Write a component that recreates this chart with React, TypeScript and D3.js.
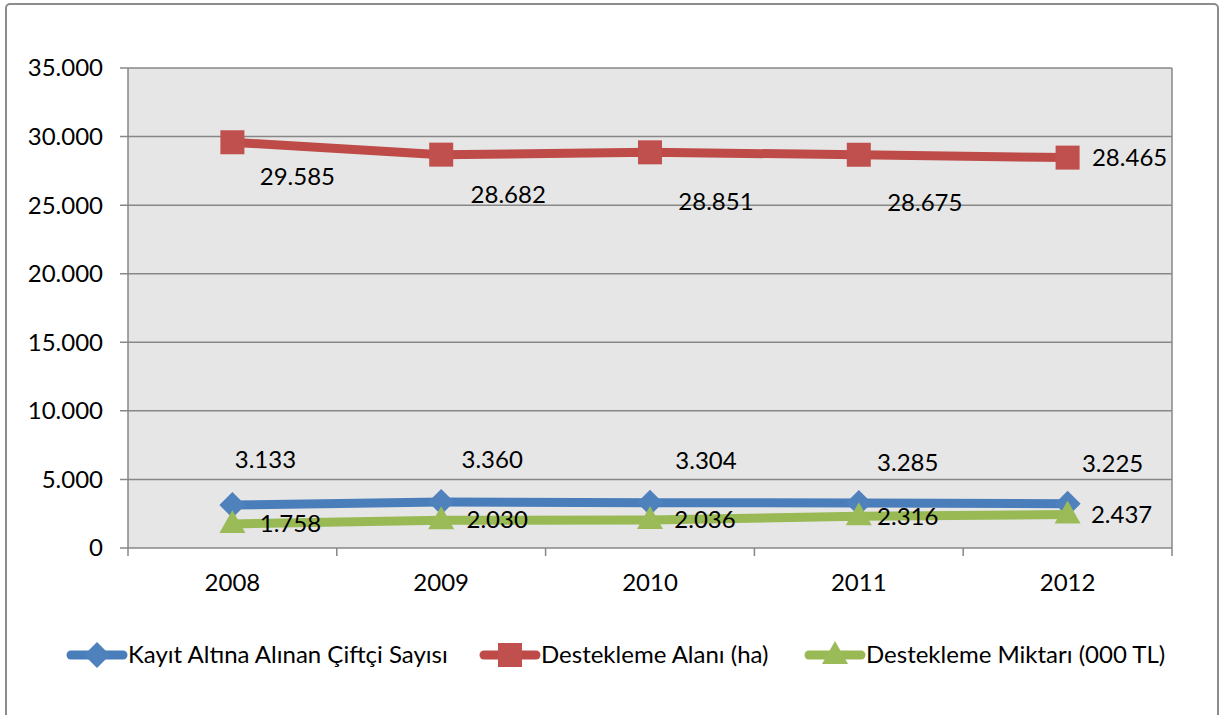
import * as d3 from "d3";

const years = ["2008", "2009", "2010", "2011", "2012"];
const ciftciSayisi = [3133, 3360, 3304, 3285, 3225];
const destekAlani = [29585, 28682, 28851, 28675, 28465];
const destekMiktari = [1758, 2030, 2036, 2316, 2437];
const yTicks = [0, 5000, 10000, 15000, 20000, 25000, 30000, 35000];

// label offsets (Excel labels were dragged by hand)
const blueLabelOff = [[33, -45], [51, -42], [56, -42], [49, -40], [45, -40]];
const redLabelOff = [[65, 34], [67, 40], [66, 49], [66, 48], [62, 0]];
const greenLabelOff = [[58, 0], [56, -1], [55, 0], [49, 0], [54, 0]];

const W = 1224;
const H = 715;
const left = 128;
const right = 1172;
const top = 68;
const bottom = 548;
const FONT = "Lato, 'Open Sans', sans-serif";
const FS = 24;

const fmt = (v: number) => d3.format(",")(v).replace(/,/g, ".");
const fmtTick = (v: number) => (v === 0 ? "0" : d3.format(".3f")(v / 1000));

const series = [
  { name: "Kayıt Altına Alınan Çiftçi Sayısı", values: ciftciSayisi, line: "#4a7ebb", fill: "#4f81bd", marker: "diamond", off: blueLabelOff },
  { name: "Destekleme Alanı (ha)", values: destekAlani, line: "#be4b48", fill: "#c0504d", marker: "square", off: redLabelOff },
  { name: "Destekleme Miktarı (000 TL)", values: destekMiktari, line: "#98b954", fill: "#9bbb59", marker: "triangle", off: greenLabelOff },
];

const legendX = [67, 480, 805];

function Marker({ kind, x, y, color }: { kind: string; x: number; y: number; color: string }) {
  if (kind === "square") {
    return <rect x={x - 12} y={y - 12} width={24} height={24} fill={color} />;
  }
  if (kind === "diamond") {
    return <path d={`M${x},${y - 13}L${x + 13},${y}L${x},${y + 13}L${x - 13},${y}Z`} fill={color} />;
  }
  return <path d={`M${x},${y - 14}L${x + 13},${y + 9}L${x - 13},${y + 9}Z`} fill={color} />;
}

export default function App() {
  const x = d3.scaleBand<string>().domain(years).range([left, right]);
  const y = d3.scaleLinear().domain([0, 35000]).range([bottom, top]);
  const cx = (yr: string) => (x(yr) ?? 0) + x.bandwidth() / 2;
  const line = d3
    .line<number>()
    .x((_, i) => cx(years[i]))
    .y((d) => y(d));

  return (
    <svg
      width={W}
      height={H}
      style={{ position: "absolute", left: 0, top: 0, display: "block" }}
      fontFamily={FONT}
    >
      <rect x={0} y={0} width={W} height={H} fill="#fff" />
      <rect x={6} y={4} width={1212} height={740} rx={4} fill="none" stroke="#8c8c8c" strokeWidth={2} />

      {/* plot area */}
      <rect x={left} y={top} width={right - left} height={bottom - top} fill="#e6e6e6" />

      {/* gridlines + y ticks */}
      {yTicks.map((t) => (
        <g key={t}>
          <line x1={left - 8} x2={right} y1={y(t)} y2={y(t)} stroke="#878787" strokeWidth={1.5} />
          <text x={103} y={y(t)} dy="0.35em" textAnchor="end" fontSize={FS} fill="#000">
            {fmtTick(t)}
          </text>
        </g>
      ))}
      <line x1={left} x2={left} y1={top} y2={bottom} stroke="#878787" strokeWidth={1.5} />
      <line x1={right} x2={right} y1={top} y2={bottom + 8} stroke="#878787" strokeWidth={1.5} />

      {/* x axis ticks */}
      {years.map((yr) => (
        <g key={yr}>
          <line x1={x(yr)} x2={x(yr)} y1={bottom} y2={bottom + 8} stroke="#878787" strokeWidth={1.5} />
          <text x={cx(yr)} y={583} dy="0.35em" textAnchor="middle" fontSize={FS} fill="#000">
            {yr}
          </text>
        </g>
      ))}

      {/* series */}
      {series.map((s) => (
        <g key={s.name}>
          <path d={line(s.values) ?? ""} fill="none" stroke={s.line} strokeWidth={9} strokeLinejoin="round" />
          {s.values.map((v, i) => (
            <Marker key={i} kind={s.marker} x={cx(years[i])} y={y(v)} color={s.fill} />
          ))}
        </g>
      ))}

      {/* data labels */}
      {series.map((s) =>
        s.values.map((v, i) => (
          <text
            key={s.name + i}
            x={cx(years[i]) + s.off[i][0]}
            y={y(v) + s.off[i][1]}
            dy="0.35em"
            textAnchor="middle"
            fontSize={FS}
            fill="#000"
          >
            {fmt(v)}
          </text>
        ))
      )}

      {/* legend */}
      {series.map((s, i) => (
        <g key={s.name}>
          <line x1={legendX[i] + 4} x2={legendX[i] + 56} y1={655} y2={655} stroke={s.line} strokeWidth={9} strokeLinecap="round" />
          <Marker kind={s.marker} x={legendX[i] + 30} y={655} color={s.fill} />
          <text x={legendX[i] + 61} y={655} dy="0.35em" fontSize={FS} fill="#000">
            {s.name}
          </text>
        </g>
      ))}
    </svg>
  );
}
